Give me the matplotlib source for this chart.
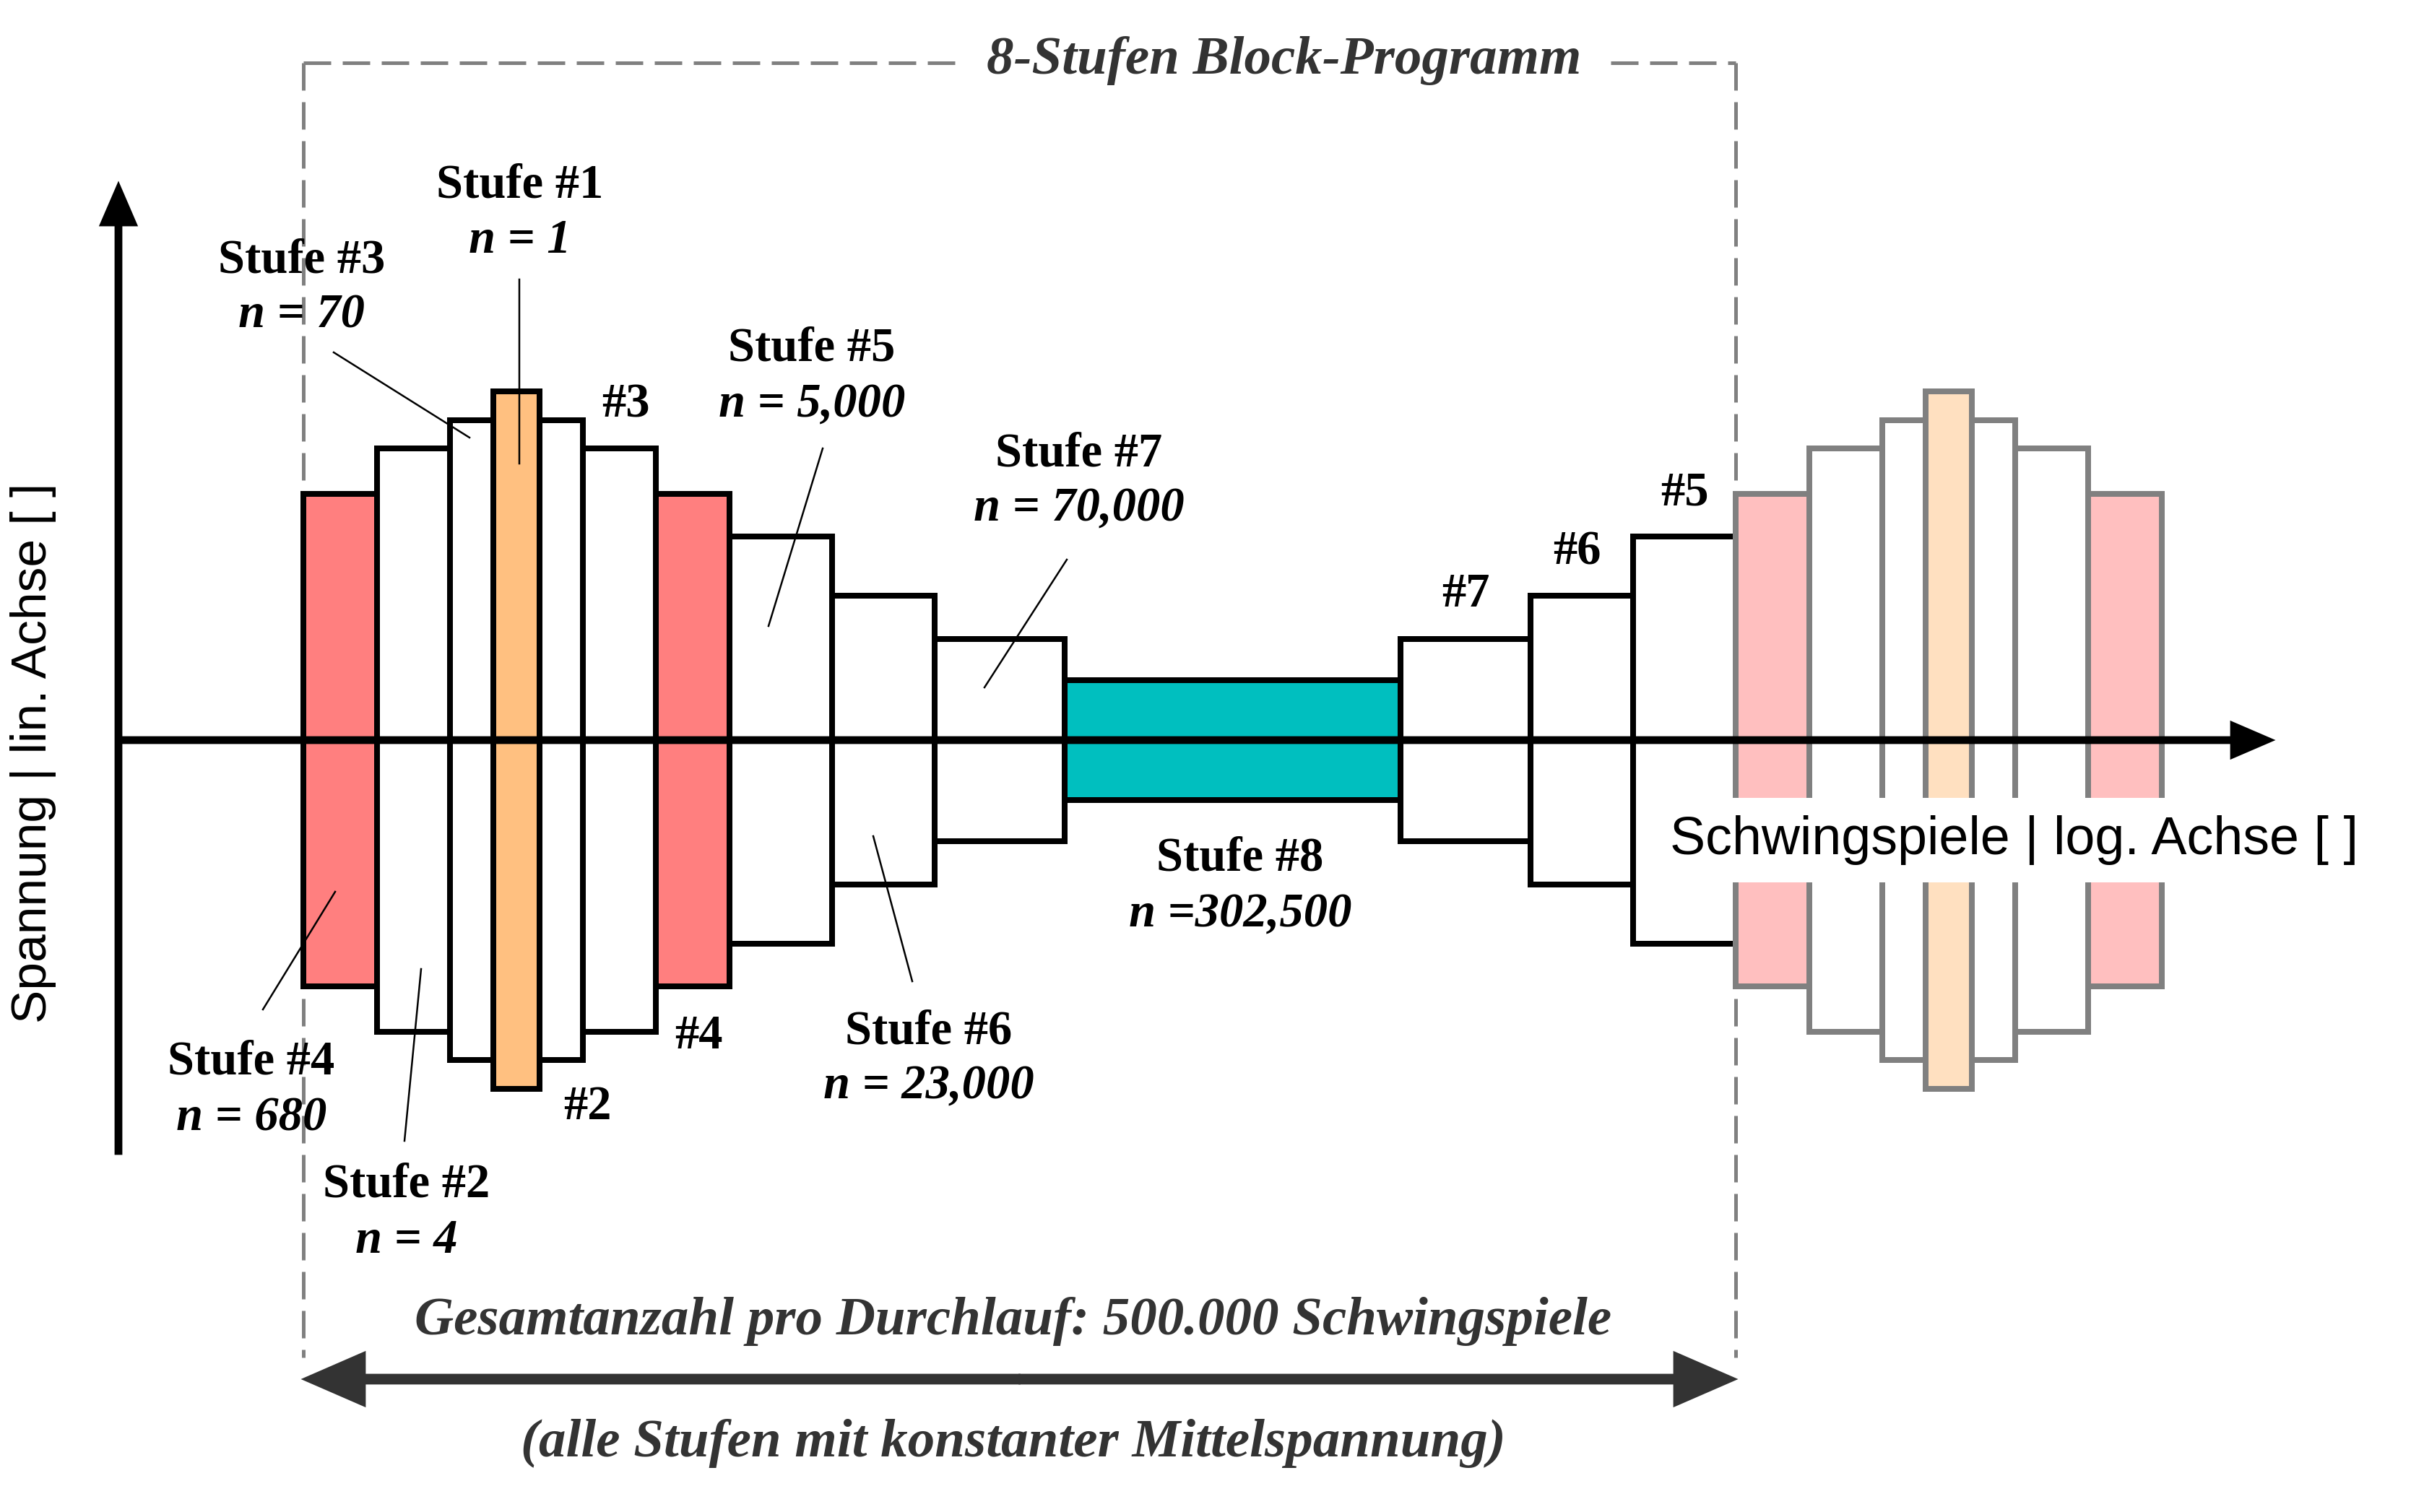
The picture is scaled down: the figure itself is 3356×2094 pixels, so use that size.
import numpy as np
import matplotlib
matplotlib.use("Agg")
import matplotlib.pyplot as plt
from matplotlib.patches import FancyArrow

# Stufen des Block-Programms
stufen = [1, 2, 3, 4, 5, 6, 7, 8]
schwingspiele = ["1", "4", "70", "680", "5,000", "23,000", "70,000", "302,500"]
amplitude = [483, 404, 443, 341, 282, 200, 140, 83]   # halbe Blockhoehe
breite = [64, 101, 60, 102, 142, 142, 180, 465]       # Blockbreite
block_folge = [4, 2, 3, 1, 3, 2, 4, 5, 6, 7, 8, 7, 6, 5]
wiederholung = [4, 2, 3, 1, 3, 2, 4]

farbe = {1: "#FFC080", 4: "#FF7F7F", 8: "#00BFBF"}
farbe_blass = {1: "#FFE0C0", 4: "#FFBFBF"}

W, H, DPI = 3356, 2094, 200
PX = 72 / DPI  # points per pixel
X0, Y0 = 420, 1025

fig = plt.figure(figsize=(W / DPI, H / DPI), dpi=DPI)
ax = fig.add_axes([0, 0, 1, 1])
ax.set_xlim(0, W)
ax.set_ylim(H, 0)
ax.axis("off")

SERIF = "Liberation Serif"
SANS = "Liberation Sans"


def zeichne_bloecke(folge, start, fill_map, edge, z):
    w = np.array([breite[s - 1] for s in folge])
    a = np.array([amplitude[s - 1] for s in folge])
    left = start + np.concatenate([[0], np.cumsum(w)[:-1]])
    ax.bar(left, 2 * a, width=w, bottom=Y0 - a, align="edge",
           color=[fill_map.get(s, "white") for s in folge],
           edgecolor=edge, linewidth=8 * PX, zorder=z)
    return start + w.sum()


ende = zeichne_bloecke(block_folge, X0, farbe, "black", 3)
zeichne_bloecke(wiederholung, ende, farbe_blass, "#808080", 4)

# gestrichelter Rahmen um einen Durchlauf
dash = dict(color="#808080", lw=5 * PX, dashes=(7.6, 3.2))
ax.plot([X0, X0], [87, 1880], zorder=2, **dash)
ax.plot([ende, ende], [87, 1880], zorder=5, **dash)
ax.plot([X0, 1325], [87, 87], zorder=2, **dash)
ax.plot([2230, ende], [87, 87], zorder=2, **dash)
ax.text(1778, 102, "8-Stufen Block-Programm", family=SERIF, weight="bold",
        style="italic", size=27, color="#333333", ha="center", va="baseline")

# Achsen
ax.add_patch(FancyArrow(163, Y0, 3147 - 163, 0, width=8, head_width=50,
                        head_length=58, length_includes_head=True,
                        color="black", zorder=8))
ax.add_patch(FancyArrow(164, 1598, 0, 254 - 1598, width=8, head_width=50,
                        head_length=58, length_includes_head=True,
                        color="black", zorder=8))
ax.text(2312, 1183, "Schwingspiele | log. Achse [ ]", family=SANS, size=26.5,
        ha="left", va="baseline", zorder=7,
        bbox=dict(facecolor="white", edgecolor="none",
                  boxstyle="square,pad=0.33"))
ax.text(46, 1043, "Spannung | lin. Achse [ ]", family=SANS, size=25,
        rotation=90, ha="center", va="center")

# Beschriftungen der Stufen
stufen_pos = {1: (720, 273), 3: (418, 377), 5: (1124, 500), 7: (1494, 645),
              8: (1717, 1206), 4: (348, 1488), 2: (563, 1658), 6: (1286, 1445)}
for s, (x, y) in stufen_pos.items():
    ax.text(x, y, f"Stufe #{s}", family=SERIF, weight="bold", size=24,
            ha="center", va="baseline")
    sep = "=" if s == 8 else "= "
    ax.text(x, y + 77, f"n {sep}{schwingspiele[s - 1]}", family=SERIF,
            weight="bold", style="italic", size=24, ha="center", va="baseline")

kurz_pos = {3: (866, 578), 2: (813, 1550), 4: (967, 1452),
            7: (2029, 840), 6: (2183, 782), 5: (2332, 700)}
for s, (x, y) in kurz_pos.items():
    ax.text(x, y, f"#{s}", family=SERIF, weight="bold", size=24,
            ha="center", va="baseline")

# Hinweislinien
hinweise = [((719, 387), (719, 642)), ((462, 488), (650, 606)),
            ((1139, 621), (1064, 867)), ((1477, 775), (1363, 952)),
            ((364, 1398), (464, 1235)), ((560, 1580), (583, 1342)),
            ((1263, 1359), (1209, 1158))]
for (xa, ya), (xb, yb) in hinweise:
    ax.plot([xa, xb], [ya, yb], color="black", lw=2.5 * PX, zorder=9)

# Gesamtanzahl-Pfeil
mitte = (X0 + ende) / 2
for ziel in (X0, ende):
    ax.add_patch(FancyArrow(mitte, 1910, ziel - mitte, 0, width=12,
                            head_width=74, head_length=85,
                            length_includes_head=True, color="#333333",
                            zorder=6))
ax.text(1403, 1848, "Gesamtanzahl pro Durchlauf: 500.000 Schwingspiele",
        family=SERIF, weight="bold", style="italic", size=27, color="#333333",
        ha="center", va="baseline")
ax.text(1403, 2017, "(alle Stufen mit konstanter Mittelspannung)",
        family=SERIF, weight="bold", style="italic", size=27, color="#333333",
        ha="center", va="baseline")

fig.savefig("out.png", dpi=DPI)
